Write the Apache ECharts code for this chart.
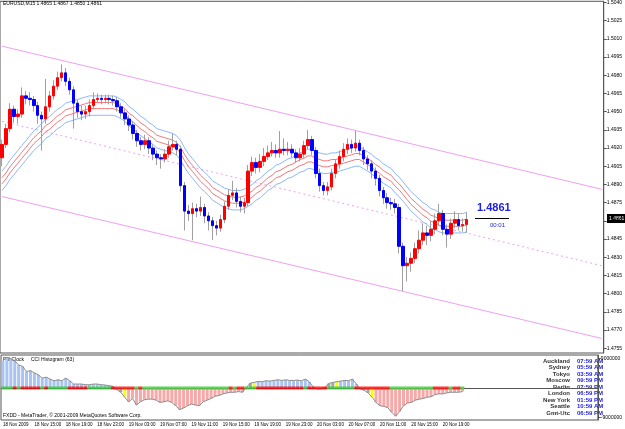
<!DOCTYPE html>
<html>
<head>
    <meta http-equiv="Content-Type" content="text/html; charset=utf-8" />
    <title>EURUSD,M15</title>
    <style type="text/css">
        body, html {width: 100%;height: 100%;margin:0;background:#fff;}
        #chart {width:625px;height:429px;}
    </style>
    <script src="https://cdn.jsdelivr.net/npm/echarts@6/dist/echarts.min.js"></script>
</head>
<body>
<div id="chart"></div>
<script type="text/javascript">
    // 30-minute candles
    var opens = [1.4912,1.4923,1.4936,1.4952,1.4946,1.4948,1.4963,1.4961,1.4960,1.4955,
        1.4947,1.4944,1.4954,1.4963,1.4971,1.4978,1.4982,1.4975,1.4968,1.4957,
        1.4950,1.4948,1.4950,1.4955,1.4960,1.4961,1.4960,1.4961,1.4960,1.4959,
        1.4954,1.4949,1.4944,1.4939,1.4932,1.4926,1.4923,1.4926,1.4920,1.4915,
        1.4912,1.4911,1.4915,1.4921,1.4923,1.4919,1.4889,1.4868,1.4866,1.4870,
        1.4868,1.4871,1.4864,1.4860,1.4856,1.4854,1.4861,1.4872,1.4881,1.4883,
        1.4876,1.4872,1.4875,1.4901,1.4908,1.4904,1.4909,1.4913,1.4916,1.4918,
        1.4916,1.4919,1.4918,1.4919,1.4916,1.4912,1.4915,1.4922,1.4927,1.4918,
        1.4899,1.4889,1.4885,1.4888,1.4899,1.4907,1.4913,1.4919,1.4923,1.4920,
        1.4924,1.4918,1.4911,1.4907,1.4901,1.4895,1.4885,1.4879,1.4875,1.4874,
        1.4871,1.4839,1.4823,1.4825,1.4829,1.4837,1.4844,1.4850,1.4848,1.4853,
        1.4860,1.4866,1.4853,1.4849,1.4858,1.4861,1.4856,1.4857];
    var closes = [1.4923,1.4936,1.4952,1.4946,1.4948,1.4963,1.4961,1.4960,1.4955,1.4947,
        1.4944,1.4954,1.4963,1.4971,1.4978,1.4982,1.4975,1.4968,1.4957,1.4950,
        1.4948,1.4950,1.4955,1.4960,1.4961,1.4960,1.4961,1.4960,1.4959,1.4954,
        1.4949,1.4944,1.4939,1.4932,1.4926,1.4923,1.4926,1.4920,1.4915,1.4912,
        1.4911,1.4915,1.4921,1.4923,1.4919,1.4889,1.4868,1.4866,1.4870,1.4868,
        1.4871,1.4864,1.4860,1.4856,1.4854,1.4861,1.4872,1.4881,1.4883,1.4876,
        1.4872,1.4875,1.4901,1.4908,1.4904,1.4909,1.4913,1.4916,1.4918,1.4916,
        1.4919,1.4918,1.4919,1.4916,1.4912,1.4915,1.4922,1.4927,1.4918,1.4899,
        1.4889,1.4885,1.4888,1.4899,1.4907,1.4913,1.4919,1.4923,1.4920,1.4924,
        1.4918,1.4911,1.4907,1.4901,1.4895,1.4885,1.4879,1.4875,1.4874,1.4871,
        1.4839,1.4823,1.4825,1.4829,1.4837,1.4844,1.4850,1.4848,1.4853,1.4860,
        1.4866,1.4853,1.4849,1.4858,1.4861,1.4856,1.4857,1.4861];
    var highs = [1.4927,1.4940,1.4957,1.4955,1.4952,1.4970,1.4967,1.4966,1.4963,1.4958,
        1.4950,1.4977,1.4967,1.4976,1.4983,1.4989,1.4986,1.4978,1.4971,1.4960,
        1.4955,1.4955,1.4960,1.4966,1.4965,1.4964,1.4964,1.4964,1.4963,1.4962,
        1.4957,1.4952,1.4947,1.4942,1.4935,1.4929,1.4931,1.4929,1.4923,1.4918,
        1.4915,1.4919,1.4926,1.4932,1.4926,1.4922,1.4892,1.4873,1.4875,1.4874,
        1.4880,1.4874,1.4867,1.4863,1.4860,1.4865,1.4876,1.4886,1.4893,1.4887,
        1.4880,1.4879,1.4906,1.4913,1.4912,1.4915,1.4920,1.4922,1.4925,1.4923,
        1.4934,1.4928,1.4925,1.4923,1.4919,1.4920,1.4926,1.4935,1.4930,1.4921,
        1.4903,1.4892,1.4892,1.4903,1.4911,1.4918,1.4924,1.4928,1.4927,1.4934,
        1.4927,1.4921,1.4914,1.4910,1.4904,1.4898,1.4888,1.4883,1.4879,1.4878,
        1.4874,1.4842,1.4830,1.4834,1.4842,1.4852,1.4858,1.4856,1.4860,1.4866,
        1.4874,1.4869,1.4857,1.4862,1.4868,1.4866,1.4862,1.4867];
    var lows = [1.4905,1.4920,1.4933,1.4941,1.4940,1.4945,1.4956,1.4955,1.4950,1.4940,
        1.4918,1.4940,1.4950,1.4960,1.4968,1.4975,1.4971,1.4964,1.4936,1.4945,
        1.4943,1.4944,1.4946,1.4952,1.4957,1.4956,1.4957,1.4956,1.4955,1.4950,
        1.4945,1.4939,1.4934,1.4927,1.4921,1.4918,1.4919,1.4915,1.4910,1.4906,
        1.4903,1.4908,1.4912,1.4918,1.4914,1.4884,1.4852,1.4860,1.4844,1.4863,
        1.4864,1.4858,1.4852,1.4844,1.4848,1.4851,1.4858,1.4869,1.4877,1.4871,
        1.4867,1.4866,1.4872,1.4897,1.4899,1.4900,1.4905,1.4910,1.4913,1.4912,
        1.4912,1.4914,1.4914,1.4912,1.4908,1.4909,1.4912,1.4919,1.4914,1.4895,
        1.4884,1.4881,1.4881,1.4885,1.4895,1.4903,1.4909,1.4915,1.4916,1.4917,
        1.4914,1.4906,1.4902,1.4895,1.4889,1.4880,1.4874,1.4870,1.4869,1.4866,
        1.4833,1.4802,1.4810,1.4818,1.4825,1.4833,1.4840,1.4840,1.4843,1.4849,
        1.4856,1.4848,1.4838,1.4845,1.4854,1.4852,1.4851,1.4850];

    // moving average in the middle of the envelopes
    var maCentre = [1.4893,1.4897,1.4902,1.4906,1.4910,1.4914,1.4918,1.4922,1.4926,1.4929,
        1.4932,1.4936,1.4938,1.4941,1.4944,1.4946,1.4949,1.4950,1.4951,1.4952,
        1.4953,1.4954,1.4955,1.4955,1.4955,1.4955,1.4955,1.4955,1.4955,1.4954,
        1.4952,1.4950,1.4946,1.4944,1.4941,1.4938,1.4936,1.4933,1.4931,1.4928,
        1.4927,1.4926,1.4925,1.4924,1.4922,1.4918,1.4912,1.4907,1.4903,1.4899,
        1.4895,1.4892,1.4889,1.4885,1.4883,1.4881,1.4879,1.4878,1.4877,1.4877,
        1.4877,1.4878,1.4880,1.4882,1.4885,1.4887,1.4890,1.4893,1.4895,1.4898,
        1.4899,1.4901,1.4903,1.4904,1.4906,1.4908,1.4909,1.4911,1.4911,1.4909,
        1.4908,1.4907,1.4907,1.4908,1.4908,1.4909,1.4910,1.4911,1.4912,1.4913,
        1.4913,1.4911,1.4909,1.4907,1.4904,1.4902,1.4899,1.4897,1.4895,1.4891,
        1.4888,1.4884,1.4880,1.4876,1.4873,1.4870,1.4867,1.4865,1.4862,1.4861,
        1.4859,1.4858,1.4858,1.4858,1.4858,1.4858,1.4858,1.4859];
    var outerBand = 0.0008;
    var innerBand = 0.00025;

    // regression channel, value at first and last slot
    var channelUpper = [1.5004, 1.4886];
    var channelMid = [1.4942, 1.4823];
    var channelLower = [1.4880, 1.4763];

    // CCI histogram (millions) and the zero line signal (1 green, 0 red)
    var cciHist = [8.3,9.4,8.9,8.3,7.0,6.6,5.0,5.3,4.6,4.0,
        3.0,3.3,2.7,2.2,2.5,2.2,3.0,2.2,1.2,1.2,
        1.2,1.0,1.0,1.2,1.2,1.0,0.9,0.7,0.5,-0.5,
        -1.3,-2.8,-4.2,-3.2,-5.2,-4.2,-3.6,-3.4,-3.4,-3.7,
        -4.4,-4.2,-3.9,-4.4,-5.4,-6.6,-6.1,-5.4,-4.9,-5.2,
        -5.4,-4.2,-3.7,-3.2,-2.5,-2.3,-1.8,-1.5,-1.3,-1.3,
        -1.1,-1.3,0.2,1.5,1.7,2.0,1.9,2.2,2.1,2.3,
        2.5,2.3,2.5,2.3,2.3,2.4,2.2,2.7,1.9,0.3,
        -0.3,-0.3,0.2,1.4,1.7,1.9,2.1,2.3,2.2,2.7,
        1.2,-0.3,-0.7,-1.5,-2.8,-4.4,-5.4,-5.6,-6.0,-7.4,
        -8.6,-7.2,-5.4,-4.6,-4.4,-3.7,-3.4,-3.2,-2.8,-2.7,
        -2.0,-1.8,-1.8,-1.5,-1.3,-1.3,-1.3,-1.1];
    var cciSignal = [1,1,1,0,1,0,0,0,0,0,
        1,0,1,1,1,1,1,0,0,0,
        0,0,1,1,1,1,1,1,0,0,
        0,0,0,0,1,0,1,1,1,1,
        1,1,1,1,1,1,1,1,1,1,
        1,1,1,1,1,1,1,1,0,1,
        0,0,1,1,1,0,0,0,0,0,
        0,0,0,0,0,0,0,1,0,0,
        0,0,0,1,1,1,1,1,1,1,
        0,0,0,0,0,0,0,0,0,1,
        1,1,1,1,1,1,1,1,1,1,
        0,0,0,0,1,0,0,1];
    var yellowBars = [31, 64, 85, 94];
    var greyBars = [29, 30, 62, 63, 83, 84, 91, 92, 93];

    var slotCount = 152;
    var xTickLabels = ['18 Nov 2009', '18 Nov 15:00', '18 Nov 19:00', '18 Nov 23:00', '19 Nov 03:00',
        '19 Nov 07:00', '19 Nov 11:00', '19 Nov 15:00', '19 Nov 19:00', '19 Nov 23:00',
        '20 Nov 03:00', '20 Nov 07:00', '20 Nov 11:00', '20 Nov 15:00', '20 Nov 19:00'];
    var priceTicks = [1.5040, 1.5025, 1.5010, 1.4995, 1.4980, 1.4965, 1.4950, 1.4935, 1.4920, 1.4905,
        1.4890, 1.4875, 1.4860, 1.4845, 1.4830, 1.4815, 1.4800, 1.4785, 1.4770, 1.4755];
    var cciTicks = [9, -9];

    var clockCities = ['Auckland', 'Sydney', 'Tokyo', 'Moscow', 'Berlin', 'London', 'New York', 'Seattle', 'Gmt-Utc'];
    var clockTimes = ['07:59 AM', '05:59 AM', '03:59 AM', '09:59 PM', '07:59 PM', '06:59 PM', '01:59 PM', '10:59 AM', '06:59 PM'];

    var FONT = '"Liberation Sans", Arial, sans-serif';

    function initChart() {
        var chart = echarts.init(document.getElementById('chart'));
        var slots = [];
        for (var i = 0; i < slotCount; i++) slots.push(String(i));

        var wicks = [], bodies = [], upOuter = [], upInner = [], dnInner = [], dnOuter = [];
        for (var k = 0; k < closes.length; k++) {
            wicks.push([opens[k], closes[k], lows[k], highs[k]]);
            bodies.push([opens[k], closes[k], Math.min(opens[k], closes[k]), Math.max(opens[k], closes[k])]);
            upOuter.push(maCentre[k] + outerBand);
            upInner.push(maCentre[k] + innerBand);
            dnInner.push(maCentre[k] - innerBand);
            dnOuter.push(maCentre[k] - outerBand);
        }

        var histData = cciHist.map(function (v, i) {
            var c = v >= 0 ? '#a9c3f2' : '#f6a9a9';
            if (greyBars.indexOf(i) >= 0) c = '#a8a8a8';
            if (yellowBars.indexOf(i) >= 0) c = '#ffff00';
            return {value: v, itemStyle: {color: c}};
        });
        var signalData = cciSignal.map(function (s, i) {
            return {value: [i, 0], itemStyle: {color: s ? '#33cc33' : '#ff0000'}};
        });
        var last = slotCount - 1;

        function labelAt(idx) {
            return idx % 8 === 0 && idx / 8 < xTickLabels.length;
        }

        var graphics = [
            {type: 'text', left: 3, top: 1, style: {text: 'EURUSD,M15 1.4865 1.4867 1.4850 1.4861', fill: '#000', font: '5px ' + FONT}},
            {type: 'text', x: 477, y: 213, style: {text: '1.4861', fill: '#2222dd', font: 'bold 11px ' + FONT, verticalAlign: 'bottom'}},
            {type: 'line', shape: {x1: 475, y1: 218.5, x2: 509, y2: 218.5}, style: {stroke: '#000', lineWidth: 1}},
            {type: 'text', x: 490, y: 222, style: {text: '00:01', fill: '#2222dd', font: '6px ' + FONT}},
            {type: 'rect', shape: {x: 607, y: 214, width: 18, height: 9}, style: {fill: '#000'}},
            {type: 'text', x: 609, y: 218.5, style: {text: '1.4861', fill: '#fff', font: '5px ' + FONT, verticalAlign: 'middle'}},
            {type: 'text', x: 3, y: 357, style: {text: 'Pal Clock', fill: '#000', font: '5px ' + FONT}},
            {type: 'text', x: 31, y: 357, style: {text: 'CCI Histogram (63)', fill: '#000', font: '5px ' + FONT}},
            {type: 'text', x: 3, y: 413, style: {text: 'FXDD - MetaTrader, \u00a9 2001-2009 MetaQuotes Software Corp.', fill: '#000', font: '5px ' + FONT}}
        ];
        for (var r = 0; r < clockCities.length; r++) {
            var cy = 361 + r * 6.5;
            graphics.push({type: 'text', x: 570, y: cy, style: {text: clockCities[r], fill: '#333', font: 'bold 6px ' + FONT, align: 'right', verticalAlign: 'middle'}});
            graphics.push({type: 'text', x: 577, y: cy, style: {text: clockTimes[r], fill: '#2222dd', font: 'bold 6px ' + FONT, verticalAlign: 'middle'}});
        }

        var option = {
            animation: false,
            backgroundColor: '#fff',
            textStyle: {fontFamily: FONT},
            grid: [
                {left: 0, top: 0, width: 606, height: 353, show: true, borderColor: '#555', borderWidth: 1},
                {left: 0, top: 355, width: 606, height: 65, show: true, borderColor: '#555', borderWidth: 1}
            ],
            xAxis: [
                {type: 'category', gridIndex: 0, data: slots, axisLine: {show: false}, axisTick: {show: false}, axisLabel: {show: false}, splitLine: {show: false}},
                {type: 'category', gridIndex: 1, data: slots,
                    axisLine: {lineStyle: {color: '#555'}},
                    axisTick: {interval: labelAt, alignWithLabel: true, length: 3, lineStyle: {color: '#555'}},
                    axisLabel: {interval: labelAt, align: 'left', margin: 2, fontSize: 4.5, color: '#000',
                        formatter: function (v, idx) { return xTickLabels[idx / 8]; }},
                    splitLine: {show: false}}
            ],
            yAxis: [
                {type: 'value', gridIndex: 0, position: 'right', min: 1.4751, max: 1.5041, scale: true,
                    axisLine: {show: true, lineStyle: {color: '#555'}},
                    axisTick: {show: true, customValues: priceTicks, length: 3, lineStyle: {color: '#555'}},
                    axisLabel: {customValues: priceTicks, fontSize: 5, margin: 3, color: '#000',
                        formatter: function (v) { return v.toFixed(4); }},
                    splitLine: {show: false}},
                {type: 'value', gridIndex: 1, position: 'right', min: -9.76, max: 10.06,
                    axisLine: {show: true, lineStyle: {color: '#555'}},
                    axisTick: {show: true, customValues: cciTicks, length: 3, lineStyle: {color: '#555'}},
                    axisLabel: {customValues: cciTicks, fontSize: 5, margin: 3, color: '#000',
                        formatter: function (v) { return (v * 1000000).toFixed(0); }},
                    splitLine: {show: false}}
            ],
            series: [
                {type: 'line', xAxisIndex: 0, yAxisIndex: 0, data: [[0, channelUpper[0]], [last, channelUpper[1]]], symbol: 'none', lineStyle: {color: '#f0a0f0', width: 1}, z: 1},
                {type: 'line', xAxisIndex: 0, yAxisIndex: 0, data: [[0, channelMid[0]], [last, channelMid[1]]], symbol: 'none', lineStyle: {color: '#f0a0f0', width: 1, type: [2, 3]}, z: 1},
                {type: 'line', xAxisIndex: 0, yAxisIndex: 0, data: [[0, channelLower[0]], [last, channelLower[1]]], symbol: 'none', lineStyle: {color: '#f0a0f0', width: 1}, z: 1},
                {type: 'line', xAxisIndex: 0, yAxisIndex: 0, data: upOuter, symbol: 'none', lineStyle: {color: '#8ab8f8', width: 1}, z: 2},
                {type: 'line', xAxisIndex: 0, yAxisIndex: 0, data: upInner, symbol: 'none', lineStyle: {color: '#f07878', width: 1}, z: 2},
                {type: 'line', xAxisIndex: 0, yAxisIndex: 0, data: dnInner, symbol: 'none', lineStyle: {color: '#f07878', width: 1}, z: 2},
                {type: 'line', xAxisIndex: 0, yAxisIndex: 0, data: dnOuter, symbol: 'none', lineStyle: {color: '#8ab8f8', width: 1}, z: 2},
                {type: 'candlestick', xAxisIndex: 0, yAxisIndex: 0, data: wicks, barWidth: 1, z: 3,
                    itemStyle: {color: '#a0a0a0', color0: '#a0a0a0', borderColor: '#a0a0a0', borderColor0: '#a0a0a0', borderWidth: 1}},
                {type: 'candlestick', xAxisIndex: 0, yAxisIndex: 0, data: bodies, barWidth: 3, z: 4,
                    itemStyle: {color: '#ff0000', color0: '#0000ff', borderColor: '#ff0000', borderColor0: '#0000ff', borderWidth: 1}},
                {type: 'bar', xAxisIndex: 1, yAxisIndex: 1, data: histData, barWidth: 3, z: 2},
                {type: 'line', xAxisIndex: 1, yAxisIndex: 1, data: cciHist, symbol: 'none', lineStyle: {color: '#8c8c8c', width: 1}, z: 3},
                {type: 'scatter', xAxisIndex: 1, yAxisIndex: 1, data: signalData, symbol: 'rect', symbolSize: [4, 3], z: 4}
            ],
            graphic: graphics
        };
        chart.setOption(option);
    }

    initChart();
</script>
</body>
</html>
